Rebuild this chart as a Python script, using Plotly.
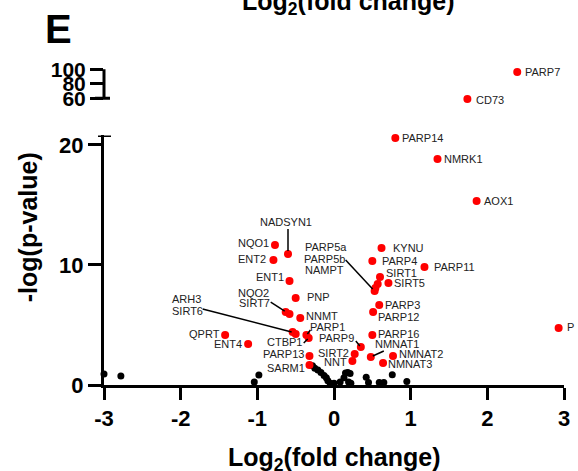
import plotly.graph_objects as go

# ---- data -------------------------------------------------------------
# significant genes shown on the lower (0-20) segment of the y axis
genes = ["PARP14", "NMRK1", "AOX1", "KYNU", "PARP4", "PARP11", "SIRT1", "SIRT5",
         "PARP5a", "PARP5b", "NAMPT", "PARP3", "PARP12", "PARP16", "NMNAT1",
         "NMNAT2", "NMNAT3", "PARP9", "SIRT2", "NNT", "PARP13", "SARM1", "PARP1",
         "CTBP1", "ARH3", "SIRT6", "QPRT", "ENT4", "NNMT", "NQO2", "SIRT7", "PNP",
         "ENT1", "NADSYN1", "ENT2", "NQO1", "P"]
log2fc = [0.80, 1.35, 1.86, 0.62, 0.50, 1.18, 0.60, 0.71,
          0.57, 0.54, 0.53, 0.59, 0.51, 0.50, 0.48,
          0.77, 0.64, 0.35, 0.27, 0.24, -0.32, -0.32, -0.36,
          -0.33, -0.54, -0.50, -1.42, -1.12, -0.44, -0.63, -0.58, -0.50,
          -0.58, -0.60, -0.79, -0.77, 2.93]
neglogp = [20.58, 18.83, 15.33, 11.42, 10.33, 9.83, 9.00, 8.50,
           8.42, 8.08, 7.83, 6.67, 6.08, 4.17, 2.33,
           2.42, 1.83, 3.17, 2.58, 2.00, 2.42, 1.67, 4.17,
           3.92, 4.42, 4.25, 4.17, 3.42, 5.58, 6.08, 5.92, 7.25,
           8.67, 10.92, 10.42, 11.67, 4.75]

# significant genes on the upper (60-100) segment
top_genes = ["PARP7", "CD73"]
top_log2fc = [2.39, 1.74]
top_neglogp = [96.0, 59.0]

# non-significant genes
ns_log2fc = [-3.00, -2.78, -0.98, -1.04,
             -0.28, -0.25, -0.21, -0.17, -0.13, -0.10, -0.08, -0.05,
             0.00, 0.08, 0.13, 0.15, 0.18, 0.21, 0.19, 0.22,
             0.42, 0.45, 0.59, 0.65, 0.76, 0.95]
ns_neglogp = [0.92, 0.75, 0.83, 0.25,
              1.60, 1.40, 1.25, 1.05, 0.80, 0.60, 0.35, 0.15,
              0.15, 0.25, 0.60, 1.00, 1.05, 0.95, 0.25, 0.15,
              0.65, 0.20, 0.20, 0.20, 0.85, 0.30]

x_ticks = [-3, -2, -1, 0, 1, 2, 3]
y_ticks_low = [0, 10, 20]
y_ticks_high = [60, 80, 100]

# ---- label placement (anchor, x shift px, y shift px) ------------------
label_style = {
    "PARP7": ("left", 6, 0), "CD73": ("left", 7, -1), "PARP14": ("left", 5, 0),
    "NMRK1": ("left", 4, 0), "AOX1": ("left", 5, 0), "KYNU": ("left", 9, 0),
    "PARP4": ("left", 8, 0), "PARP11": ("left", 8, 0), "SIRT1": ("left", 4, 4),
    "SIRT5": ("left", 4, 0), "PARP3": ("left", 4, 0), "PARP12": ("left", 3, -5),
    "PARP16": ("left", 4, 1), "NMNAT1": ("left", 2, 13), "NMNAT2": ("left", 4, 2),
    "NMNAT3": ("left", 3, -1), "NNMT": ("left", 4, 2), "PNP": ("left", 9, 1),
    "PARP1": ("left", 2, 8), "P": ("left", 6, 1),
    "QPRT": ("right", -3, 1), "ENT4": ("right", -4, 0), "SARM1": ("right", -2, -3),
    "PARP13": ("right", -3, 2), "NNT": ("right", -3, -1), "SIRT2": ("right", -4, 1),
    "CTBP1": ("right", -5, -4), "ENT1": ("right", -4, 4), "ENT2": ("right", -5, 1),
    "NQO1": ("right", -4, 2), "PARP9": ("right", -5, 9),
    "NADSYN1": ("center", -2, 32), "PARP5a": ("center", -52, 37),
    "PARP5b": ("center", -51, 29), "NAMPT": ("center", -50, 21),
    "NQO2": ("center", -32, 19), "SIRT7": ("center", -35, 11),
    "ARH3": ("left", -123, 33), "SIRT6": ("left", -126, 23),
}

# leader lines: offsets in px from the gene's point (dx0, dy0, dx1, dy1), +y is up
leaders = {
    "NADSYN1": (0, 25, 0, 3),
    "NAMPT": (-29, 31, -2, 2),
    "NQO2": (-15, 10, -1, 1),
    "ARH3": (-90, 23, -1, 0),
    "PARP1": (4, 5, 1, 1),
    "CTBP1": (-5, -5, -1, -1),
    "PARP9": (-5, 6, -1, 1),
    "NMNAT1": (13, 6, 2, 1),
}

RED = "#ff0000"
FONT = "Liberation Sans, Arial, sans-serif"
LABEL_FONT = dict(family=FONT, size=11, color="#222222")
AXIS_W = 3

fig = go.Figure()

fig.add_trace(go.Scatter(x=ns_log2fc, y=ns_neglogp, mode="markers",
                         marker=dict(color="black", size=7),
                         cliponaxis=False, hoverinfo="skip", showlegend=False))
fig.add_trace(go.Scatter(x=log2fc, y=neglogp, mode="markers", text=genes,
                         marker=dict(color=RED, size=8),
                         cliponaxis=False, showlegend=False))
fig.add_trace(go.Scatter(x=top_log2fc, y=top_neglogp, mode="markers", text=top_genes,
                         yaxis="y2", marker=dict(color=RED, size=8),
                         cliponaxis=False, showlegend=False))

annotations = []
shapes = []


def add_label(name, gx, gy, yref):
    anchor, xs, ys = label_style[name]
    annotations.append(dict(x=gx, y=gy, xref="x", yref=yref, text=name,
                            showarrow=False, xanchor=anchor, yanchor="middle",
                            xshift=xs, yshift=ys, font=LABEL_FONT))
    if name in leaders:
        dx0, dy0, dx1, dy1 = leaders[name]
        shapes.append(dict(type="line", xref="x", yref=yref,
                           xsizemode="pixel", ysizemode="pixel",
                           xanchor=gx, yanchor=gy,
                           x0=dx0, y0=dy0, x1=dx1, y1=dy1,
                           line=dict(color="black", width=1.5)))


for g, gx, gy in zip(genes, log2fc, neglogp):
    add_label(g, gx, gy, "y")
for g, gx, gy in zip(top_genes, top_log2fc, top_neglogp):
    add_label(g, gx, gy, "y2")

# upper y-axis segment: drawn bracket from 60 to 100
shapes.append(dict(type="line", xref="paper", yref="y2", x0=0, x1=0, y0=60, y1=100,
                   line=dict(color="black", width=AXIS_W)))
shapes.append(dict(type="line", xref="paper", yref="y2", xsizemode="pixel", xanchor=0,
                   x0=-9, x1=6, y0=60, y1=60, line=dict(color="black", width=AXIS_W)))
# cap at the top of the lower segment
shapes.append(dict(type="line", xref="paper", yref="y", xsizemode="pixel", xanchor=0,
                   x0=-6, x1=7, y0=20.8, y1=20.8, line=dict(color="black", width=AXIS_W)))

# panel letter and axis titles
annotations += [
    dict(text="<b>E</b>", xref="paper", yref="paper", x=-0.099, y=1.123,
         showarrow=False, xanchor="center", yanchor="middle",
         font=dict(family=FONT, size=40, color="black")),
    dict(text="<b>Log<sub>2</sub>(fold change)</b>", xref="paper", yref="paper",
         x=0.500, y=-0.232, showarrow=False, xanchor="center", yanchor="middle",
         font=dict(family=FONT, size=25, color="black")),
    dict(text="<b>Log<sub>2</sub>(fold change)</b>", xref="paper", yref="paper",
         x=0.532, y=1.206, showarrow=False, xanchor="center", yanchor="middle",
         font=dict(family=FONT, size=25, color="black")),
    dict(text="<b>-log(p-value)</b>", xref="paper", yref="paper",
         x=-0.165, y=0.498, showarrow=False, textangle=-90,
         xanchor="center", yanchor="middle",
         font=dict(family=FONT, size=25, color="black")),
]

tickfont = dict(family=FONT, size=22, color="black", weight="bold")

fig.update_layout(
    width=578, height=471,
    margin=dict(l=104, r=8, t=68, b=86),
    paper_bgcolor="white", plot_bgcolor="white",
    xaxis=dict(range=[-3, 3], tickvals=x_ticks, ticktext=[str(v) for v in x_ticks],
               showgrid=False, zeroline=False, showline=True, linewidth=AXIS_W,
               linecolor="black", ticks="outside", ticklen=12, tickwidth=AXIS_W,
               tickcolor="black", tickfont=tickfont, anchor="y"),
    yaxis=dict(domain=[0, 0.7874], range=[0, 20.8], tickvals=y_ticks_low,
               showgrid=False, zeroline=False, showline=True, linewidth=AXIS_W,
               linecolor="black", ticks="outside", ticklen=13, tickwidth=AXIS_W,
               tickcolor="black", tickfont=tickfont, anchor="x"),
    yaxis2=dict(domain=[0.898, 1.0], range=[57, 101.6], tickvals=y_ticks_high,
                showgrid=False, zeroline=False, showline=False,
                ticks="outside", ticklen=13, tickwidth=AXIS_W, tickcolor="black",
                tickfont=dict(family=FONT, size=21, color="black", weight="bold"),
                anchor="x"),
    annotations=annotations,
    shapes=shapes,
    showlegend=False,
)

fig.write_html("out.html")
